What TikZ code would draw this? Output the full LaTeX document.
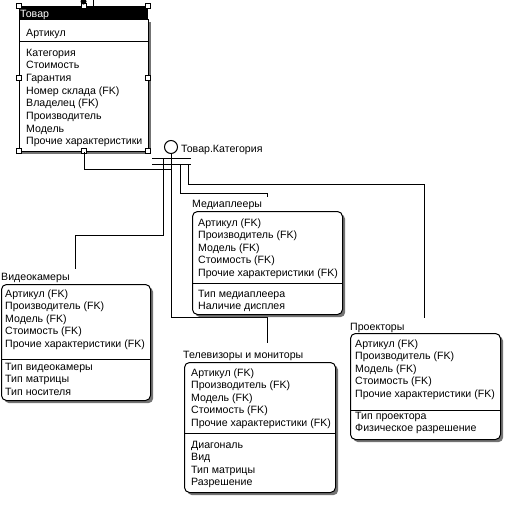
\documentclass[tikz,border=0pt]{standalone}
\usepackage{fontspec}
\setmainfont{Liberation Sans}
\begin{document}
\begin{tikzpicture}[x=1pt,y=-1pt,
  txt/.style={anchor=base west, inner sep=0pt, font=\fontsize{10.6}{12}\selectfont},
  ebox/.style={draw, line width=1pt, fill=white, rounded corners=5pt, anchor=north west, inner sep=0pt},
  eshadow/.style={fill=black!55, rounded corners=5pt, anchor=north west, inner sep=0pt},
  sepline/.style={line width=1pt},
  conn/.style={line width=1pt},
  handle/.style={draw, fill=white, minimum size=5pt, inner sep=0pt, line width=0.7pt}
]
\useasboundingbox[fill=white] (0,0) rectangle (510,517);

% ---------- Товар ----------
\node[eshadow, rounded corners=0pt, minimum width=129pt, minimum height=132pt] (tovsh) at (22,22) {};
\node[ebox, rounded corners=0pt, minimum width=129pt, minimum height=132pt] (tovbox) at (19,19) {};
\node[fill=black, anchor=north west, inner sep=0pt, minimum width=129pt, minimum height=13pt] (tovbar) at (19,6) {};
\node[txt, text=white] (tovtitle) at (20,17) {Товар};
\node[txt] (tovk1) at (26,36) {Артикул};
\draw[sepline] (19,41) -- (148,41);
\foreach \t [count=\i] in {Категория, Стоимость, Гарантия, Номер склада (FK), Владелец (FK), Производитель, Модель, Прочие характеристики}
  \node[txt] (tova\i) at (26,{56+12.7*(\i-1)}) {\t};
\foreach \p [count=\i] in {(19,6),(83.5,6),(148,6),(19,78),(148,78),(19,151),(83.5,151),(148,151)}
  \node[handle] (h\i) at \p {};
\fill (83.5,1.5) circle (3pt);
\coordinate (topa) at (93,0);
\coordinate (topb) at (93,6);
\draw[conn] (topa) -- (topb);

% ---------- category symbol ----------
\node[circle, draw, line width=1pt, minimum size=13pt, inner sep=0pt] (cat) at (171,147) {};
\node[txt] (catlabel) at (181,152) {Товар.Категория};
\coordinate (bar1w) at (152,158);
\coordinate (bar1e) at (191,158);
\coordinate (bar2w) at (152,164);
\coordinate (bar2e) at (191,164);
\draw[conn] (bar1w) -- (bar1e);
\draw[conn] (bar2w) -- (bar2e);

% connector ends and joints
\coordinate (j1) at (171,169);
\coordinate (j2) at (171,317);
\coordinate (tvend) at (267,343);
\coordinate (b1a) at (163,158);
\coordinate (j3) at (163,235);
\coordinate (vcend) at (75,269);
\coordinate (b2a) at (180,164);
\coordinate (j4) at (180,193);
\coordinate (mpend) at (267,197);
\coordinate (b2b) at (188,164);
\coordinate (j5) at (188,184);
\coordinate (prend) at (424,318);

\draw[conn] (tovbox.south) |- (j1);
\draw[conn] (cat.south) -- (j2) -| (tvend);
\draw[conn] (b1a) -- (j3) -| (vcend);
\draw[conn] (b2a) -- (j4) -| (mpend);
\draw[conn] (b2b) -- (j5) -| (prend);

% ---------- Видеокамеры ----------
\node[txt] (vctitle) at (1,280) {Видеокамеры};
\node[eshadow, minimum width=149pt, minimum height=116pt] (vcsh) at (4,287) {};
\node[ebox, minimum width=149pt, minimum height=116pt] (vcbox) at (1,284) {};
\draw[sepline] (1,359) -- (150,359);
\foreach \t [count=\i] in {Артикул (FK), Производитель (FK), Модель (FK), Стоимость (FK), Прочие характеристики (FK)}
  \node[txt] (vck\i) at (5,{297+12.6*(\i-1)}) {\t};
\foreach \t [count=\i] in {Тип видеокамеры, Тип матрицы, Тип носителя}
  \node[txt] (vcn\i) at (5,{370+12.6*(\i-1)}) {\t};

% ---------- Медиаплееры ----------
\node[txt] (mptitle) at (192,207) {Медиаплееры};
\node[eshadow, minimum width=150pt, minimum height=103pt] (mpsh) at (195,214) {};
\node[ebox, minimum width=150pt, minimum height=103pt] (mpbox) at (192,211) {};
\draw[sepline] (192,283) -- (342,283);
\foreach \t [count=\i] in {Артикул (FK), Производитель (FK), Модель (FK), Стоимость (FK), Прочие характеристики (FK)}
  \node[txt] (mpk\i) at (198,{226+12.6*(\i-1)}) {\t};
\foreach \t [count=\i] in {Тип медиаплеера, Наличие дисплея}
  \node[txt] (mpn\i) at (198,{297+12.6*(\i-1)}) {\t};

% ---------- Телевизоры и мониторы ----------
\node[txt] (tvtitle) at (183,358) {Телевизоры и мониторы};
\node[eshadow, minimum width=151pt, minimum height=130pt] (tvsh) at (187,365) {};
\node[ebox, minimum width=151pt, minimum height=130pt] (tvbox) at (184,362) {};
\draw[sepline] (184,433) -- (335,433);
\foreach \t [count=\i] in {Артикул (FK), Производитель (FK), Модель (FK), Стоимость (FK), Прочие характеристики (FK)}
  \node[txt] (tvk\i) at (191,{376+12.6*(\i-1)}) {\t};
\foreach \t [count=\i] in {Диагональ, Вид, Тип матрицы, Разрешение}
  \node[txt] (tvn\i) at (191,{448+12.6*(\i-1)}) {\t};

% ---------- Проекторы ----------
\node[txt] (prtitle) at (350,330) {Проекторы};
\node[eshadow, minimum width=150pt, minimum height=106pt] (prsh) at (353,336) {};
\node[ebox, minimum width=150pt, minimum height=106pt] (prbox) at (350,333) {};
\draw[sepline] (350,410) -- (500,410);
\foreach \t [count=\i] in {Артикул (FK), Производитель (FK), Модель (FK), Стоимость (FK), Прочие характеристики (FK)}
  \node[txt] (prk\i) at (355,{347+12.6*(\i-1)}) {\t};
\foreach \t [count=\i] in {Тип проектора, Физическое разрешение}
  \node[txt] (prn\i) at (355,{419+12.6*(\i-1)}) {\t};
\end{tikzpicture}
\end{document}
